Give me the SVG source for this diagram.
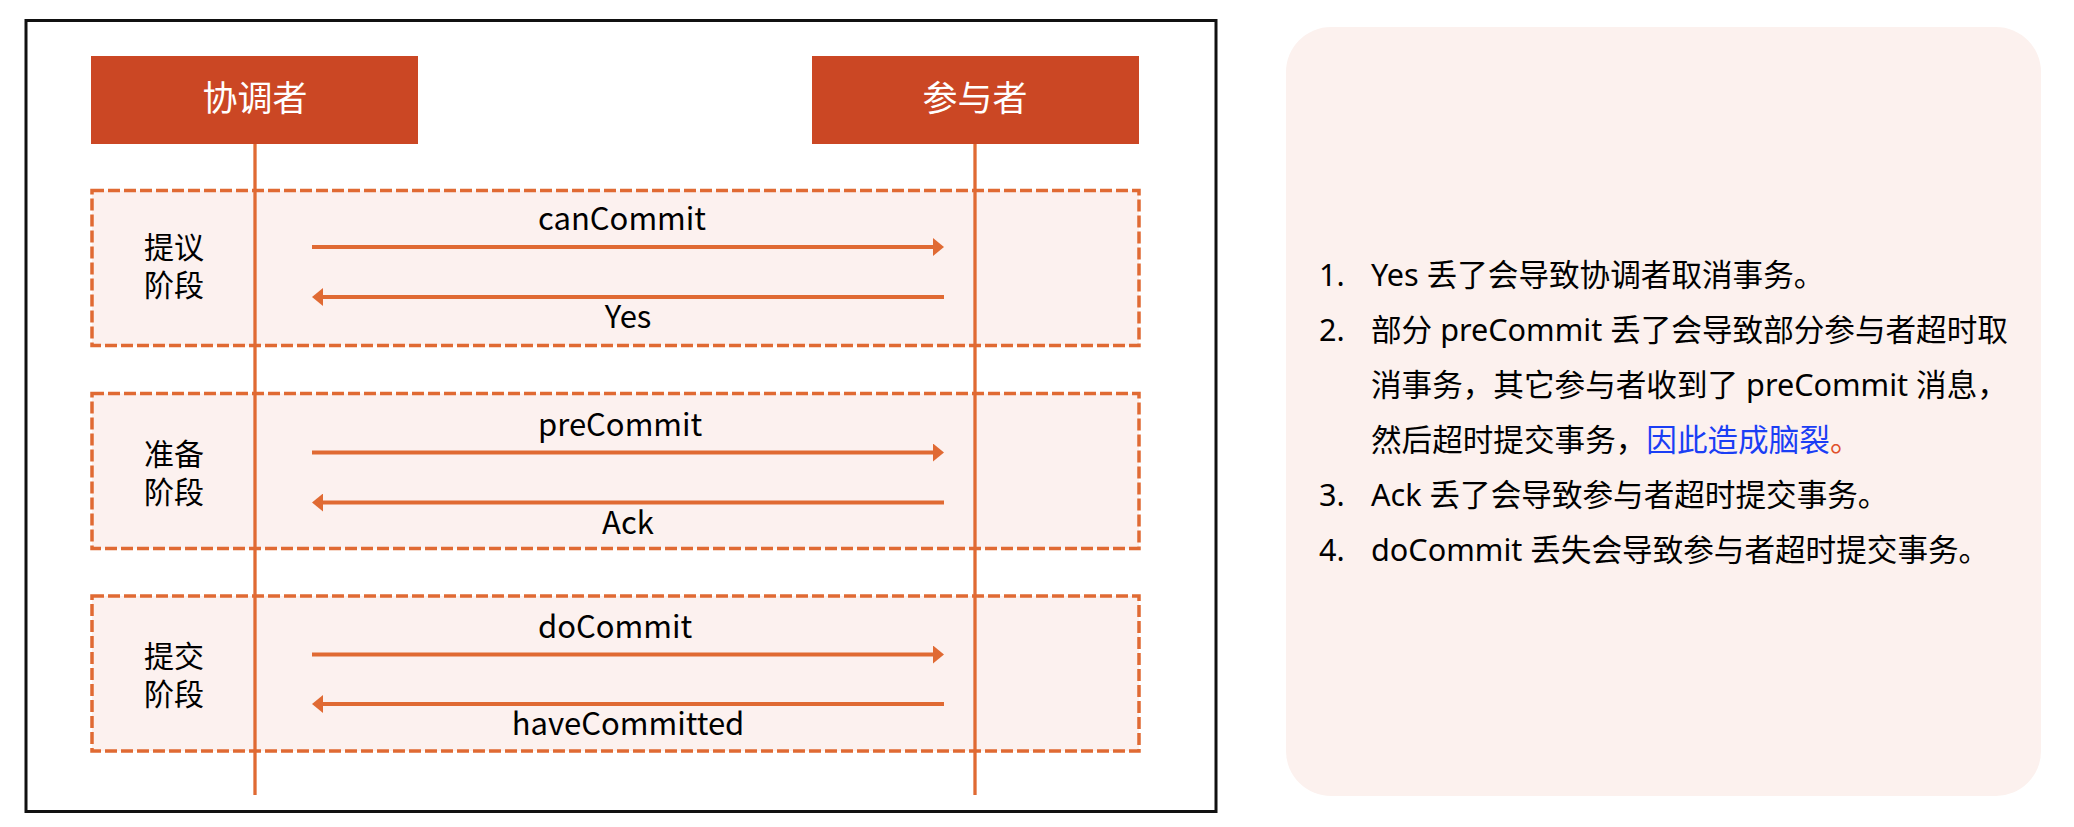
<svg xmlns="http://www.w3.org/2000/svg" width="2074" height="827" viewBox="0 0 2074 827">
  <defs>
    <marker id="ah" viewBox="0 0 11 18" refX="0" refY="9" markerWidth="11" markerHeight="18" markerUnits="userSpaceOnUse" orient="auto">
      <path d="M0,0 L11,9 L0,18 z" fill="#E06A33"/>
    </marker>
    <style>
      .frame { fill: #ffffff; stroke: #111111; stroke-width: 3; }
      .head { fill: #CB4724; }
      .headtxt { fill: #ffffff; font-family: "Noto Sans CJK SC", sans-serif; font-size: 35px; text-anchor: middle; }
      .phase { fill: #FCF1EF; stroke: #E06A33; stroke-width: 3.5; stroke-dasharray: 12 4; }
      .life { stroke: #E06A33; stroke-width: 3.3; fill: none; }
      .msg { stroke: #E06A33; stroke-width: 3.8; fill: none; marker-end: url(#ah); }
      .lbl { fill: #000000; font-family: "Noto Sans CJK SC", sans-serif; font-size: 31px; }
      .ph { fill: #000000; font-family: "Noto Sans CJK SC", sans-serif; font-size: 30px; text-anchor: middle; }
      .panel { fill: #FCF1EE; }
      .note { fill: #000000; font-family: "Noto Sans", "Noto Sans CJK SC", sans-serif; font-size: 30.6px; }
    </style>
  </defs>
  <rect width="2074" height="827" fill="#ffffff"/>
  <rect class="frame" x="26" y="20.5" width="1190" height="791"/>

  <g id="phase-propose">
    <rect class="phase" x="92" y="190.5" width="1047" height="155"/>
    <text class="ph" x="174" y="258">提议<tspan x="174" dy="38">阶段</tspan></text>
  </g>
  <g id="phase-prepare">
    <rect class="phase" x="92" y="393.5" width="1047" height="155"/>
    <text class="ph" x="174" y="465">准备<tspan x="174" dy="38">阶段</tspan></text>
  </g>
  <g id="phase-commit">
    <rect class="phase" x="92" y="596" width="1047" height="155"/>
    <text class="ph" x="174" y="667">提交<tspan x="174" dy="38">阶段</tspan></text>
  </g>

  <g id="coordinator">
    <rect class="head" x="91" y="56" width="327" height="88"/>
    <text class="headtxt" x="255" y="111">协调者</text>
  </g>
  <g id="participant">
    <rect class="head" x="812" y="56" width="327" height="88"/>
    <text class="headtxt" x="975" y="111">参与者</text>
  </g>

  <g id="connectors">
    <line class="life" x1="255" y1="144" x2="255" y2="795"/>
    <line class="life" x1="975" y1="144" x2="975" y2="795"/>
    <line class="msg" x1="312" y1="247" x2="933" y2="247"/>
    <line class="msg" x1="944" y1="297" x2="323" y2="297"/>
    <line class="msg" x1="312" y1="452.5" x2="933" y2="452.5"/>
    <line class="msg" x1="944" y1="502.5" x2="323" y2="502.5"/>
    <line class="msg" x1="312" y1="654.5" x2="933" y2="654.5"/>
    <line class="msg" x1="944" y1="704" x2="323" y2="704"/>
    <text class="lbl" x="538" y="230">canCommit</text>
    <text class="lbl" x="628" y="328" text-anchor="middle">Yes</text>
    <text class="lbl" x="538" y="435.5">preCommit</text>
    <text class="lbl" x="628" y="533.5" text-anchor="middle">Ack</text>
    <text class="lbl" x="538" y="637.5">doCommit</text>
    <text class="lbl" x="628" y="735" text-anchor="middle">haveCommitted</text>
  </g>

  <g id="notes">
    <rect class="panel" x="1286" y="27" width="755" height="769" rx="45" ry="45"/>
    <text class="note" x="1319" y="286">1.</text>
    <text class="note" x="1371" y="286">Yes 丢了会导致协调者取消事务。</text>
    <text class="note" x="1319" y="341">2.</text>
    <text class="note" x="1371" y="341">部分 preCommit 丢了会导致部分参与者超时取</text>
    <text class="note" x="1371" y="396">消事务，其它参与者收到了 preCommit 消息，</text>
    <text class="note" x="1371" y="451">然后超时提交事务，<tspan fill="#1A3EF5">因此造成脑裂</tspan><tspan fill="#E0502A">。</tspan></text>
    <text class="note" x="1319" y="506">3.</text>
    <text class="note" x="1371" y="506">Ack 丢了会导致参与者超时提交事务。</text>
    <text class="note" x="1319" y="561">4.</text>
    <text class="note" x="1371" y="561">doCommit 丢失会导致参与者超时提交事务。</text>
  </g>
</svg>
